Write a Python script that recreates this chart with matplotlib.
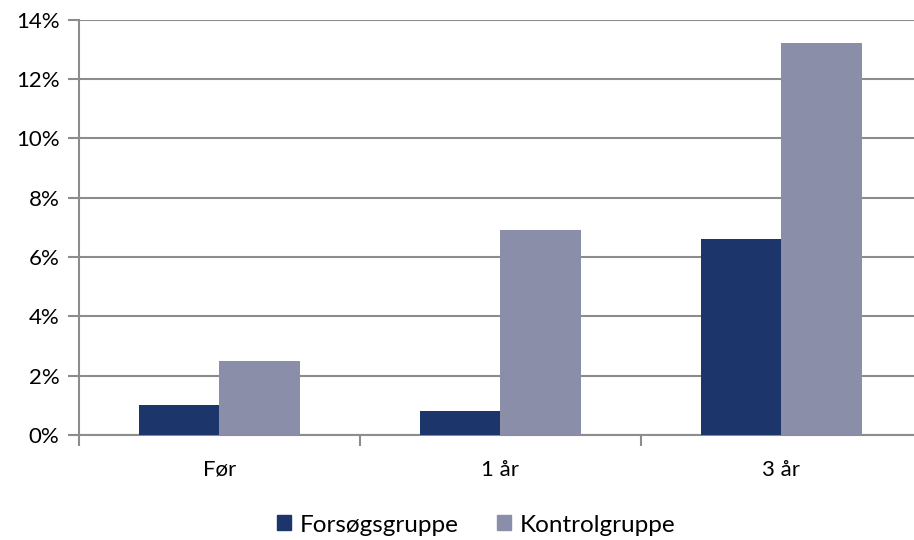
import matplotlib.pyplot as plt
import numpy as np
from matplotlib.patches import Patch

plt.rcParams['font.family'] = ['Lato', 'DejaVu Sans']

kategorier = ['Før', '1 år', '3 år']
forsoeg = [1.0, 0.8, 6.6]
kontrol = [2.5, 6.9, 13.2]
serier = ['Forsøgsgruppe', 'Kontrolgruppe']
farver = ['#1c366b', '#8a8ea8']

fig = plt.figure(figsize=(9.14, 5.4), dpi=100)
ax = fig.add_axes([79 / 914, 1 - 435 / 540, 843 / 914, 415.5 / 540])

x = np.arange(len(kategorier))
bredde = 0.285
ax.bar(x - bredde / 2, forsoeg, bredde, color=farver[0], zorder=3)
ax.bar(x + bredde / 2, kontrol, bredde, color=farver[1], zorder=3)

ax.set_xlim(-0.5, 2.5)
ax.set_ylim(0, 14)
ax.set_yticks(np.arange(0, 15, 2))
ax.set_yticklabels([f'{v}%' for v in range(0, 15, 2)], fontsize=16)
ax.yaxis.grid(True, color='#8c8c8c', linewidth=1.5, zorder=0)

# kategori-etiketter i midten, tickmarks mellem grupperne
ax.set_xticks([-0.5, 0.5, 1.5, 2.5])
ax.set_xticklabels([])
ax.set_xticks(x, minor=True)
ax.set_xticklabels(kategorier, minor=True, fontsize=16)
ax.tick_params(axis='x', which='minor', length=0, pad=18)
ax.tick_params(axis='x', which='major', length=8, width=1.5, color='#8c8c8c', direction='out')
ax.tick_params(axis='y', length=8, width=1.5, color='#8c8c8c', pad=6)

for side in ['top', 'right']:
    ax.spines[side].set_visible(False)
for side in ['left', 'bottom']:
    ax.spines[side].set_color('#8c8c8c')
    ax.spines[side].set_linewidth(1.5)

handles = [Patch(color=c) for c in farver]
fig.legend(handles, serier, loc='center', bbox_to_anchor=(476 / 914, 1 - 525 / 540),
           ncol=2, frameon=False, fontsize=17.5, handlelength=0.58, handleheight=0.58,
           handletextpad=0.35, columnspacing=1.6)

fig.savefig('out.png', dpi=100)
